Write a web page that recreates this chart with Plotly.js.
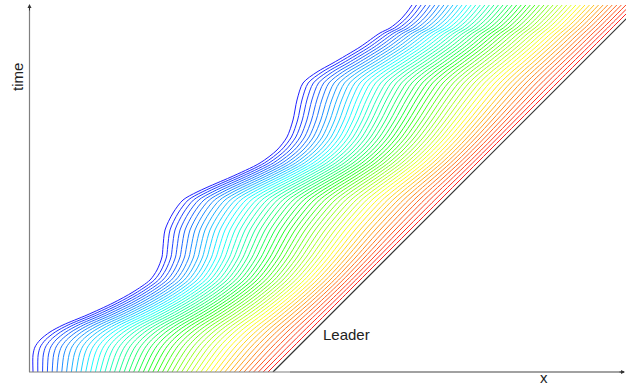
<!DOCTYPE html>
<html>
<head>
<meta charset="utf-8">
<script src="https://cdn.plot.ly/plotly-3.0.1.min.js"></script>
<style>
  html, body { margin: 0; padding: 0; background: #ffffff; }
  #chart { width: 626px; height: 387px; }
</style>
</head>
<body>
<div id="chart"></div>
<script>
// ---- data ----
// time samples (vertical axis)
const timeSamples = [0, 17, 25, 32, 40, 47, 57, 69, 80, 92, 102, 115, 125, 142, 159, 172, 180, 189, 195, 209, 222, 235, 252, 272, 289, 300, 309, 325, 339, 344, 352, 360, 367];
// position of the rear-most (blue) car at those times
const rearCarX = [3, 3, 5, 10, 20, 33, 57, 83, 103, 120, 127, 132, 133, 135, 143, 153, 167, 187, 201, 230, 247, 257, 263, 267, 273, 287, 303, 330, 350, 360, 370, 377, 382];
// position of the car right behind the leader (red) at those times
const frontCarX = [238, 255, 263, 270, 278, 285, 295, 307, 318, 330, 340, 353, 363, 380, 397, 410, 418, 427, 433, 447, 460, 473, 490, 510, 527, 538, 547, 563, 577, 582, 590, 598, 605];
// leader trajectory
const leaderT = [0, 367];
const leaderX = [243, 610];
// number of following cars
const nCars = 50;
// labels
const xLabel = "x";
const yLabel = "time";
const leaderLabel = "Leader";

// ---- build traces ----
const traces = [];
for (let i = 0; i < nCars; i++) {
  const w = i / (nCars - 1);
  const xs = rearCarX.map((v, k) => v * (1 - w) + frontCarX[k] * w);
  const hue = 240 * (1 - w);
  traces.push({
    type: 'scatter', mode: 'lines',
    x: xs, y: timeSamples,
    line: { color: 'hsl(' + hue.toFixed(1) + ',100%,56%)', width: 1, shape: 'spline', smoothing: 0.8 },
    hoverinfo: 'skip'
  });
}
traces.push({
  type: 'scatter', mode: 'lines',
  x: leaderX, y: leaderT,
  line: { color: '#333333', width: 1.2 },
  hoverinfo: 'skip'
});

const W = 626, H = 387;
const L = 30, R = 0, T = 4, B = 15;
const pw = W - L - R, ph = H - T - B;
const px = v => (v - L) / pw;
const py = v => (H - B - v) / ph;

const layout = {
  width: W, height: H,
  margin: { l: L, r: R, t: T, b: B, pad: 0 },
  paper_bgcolor: '#ffffff', plot_bgcolor: '#ffffff',
  showlegend: false,
  xaxis: { range: [0, 596], showgrid: false, zeroline: false, showline: false, showticklabels: false, ticks: '', fixedrange: true },
  yaxis: { range: [0, 368], showgrid: false, zeroline: false, showline: false, showticklabels: false, ticks: '', fixedrange: true },
  shapes: [
    { type: 'line', xref: 'paper', yref: 'paper', x0: px(29.5), x1: px(29.5), y0: py(372), y1: py(6), line: { color: '#808080', width: 1.2 }, layer: 'above' },
    { type: 'line', xref: 'paper', yref: 'paper', x0: px(29), x1: px(290), y0: py(372), y1: py(372), line: { color: '#808080', width: 1.2 }, layer: 'above' },
    { type: 'line', xref: 'paper', yref: 'paper', x0: px(290), x1: px(624), y0: py(372), y1: py(372), line: { color: '#444444', width: 1.2 }, layer: 'above' }
  ],
  annotations: [
    { xref: 'paper', yref: 'paper', x: px(29.5), y: py(4), ax: 0, ay: 8, axref: 'pixel', ayref: 'pixel', showarrow: true, arrowhead: 2, arrowsize: 0.8, arrowwidth: 1, arrowcolor: '#333333', text: '' },
    { xref: 'paper', yref: 'paper', x: px(626), y: py(372), ax: -8, ay: 0, axref: 'pixel', ayref: 'pixel', showarrow: true, arrowhead: 2, arrowsize: 0.8, arrowwidth: 1, arrowcolor: '#333333', text: '' },
    { xref: 'paper', yref: 'paper', x: px(17), y: py(77), text: yLabel, textangle: -90, showarrow: false, xanchor: 'center', yanchor: 'middle', font: { family: 'Liberation Sans, Arial, sans-serif', size: 15, color: '#222222' } },
    { xref: 'paper', yref: 'paper', x: px(543.5), y: py(386.5), text: xLabel, showarrow: false, xanchor: 'center', yanchor: 'bottom', borderpad: 0, font: { family: 'Liberation Sans, Arial, sans-serif', size: 15, color: '#222222' } },
    { xref: 'paper', yref: 'paper', x: px(346), y: py(334), text: leaderLabel, showarrow: false, xanchor: 'center', yanchor: 'middle', font: { family: 'Liberation Sans, Arial, sans-serif', size: 15, color: '#222222' } }
  ]
};

Plotly.newPlot('chart', traces, layout, { displayModeBar: false, staticPlot: true });
</script>
</body>
</html>
